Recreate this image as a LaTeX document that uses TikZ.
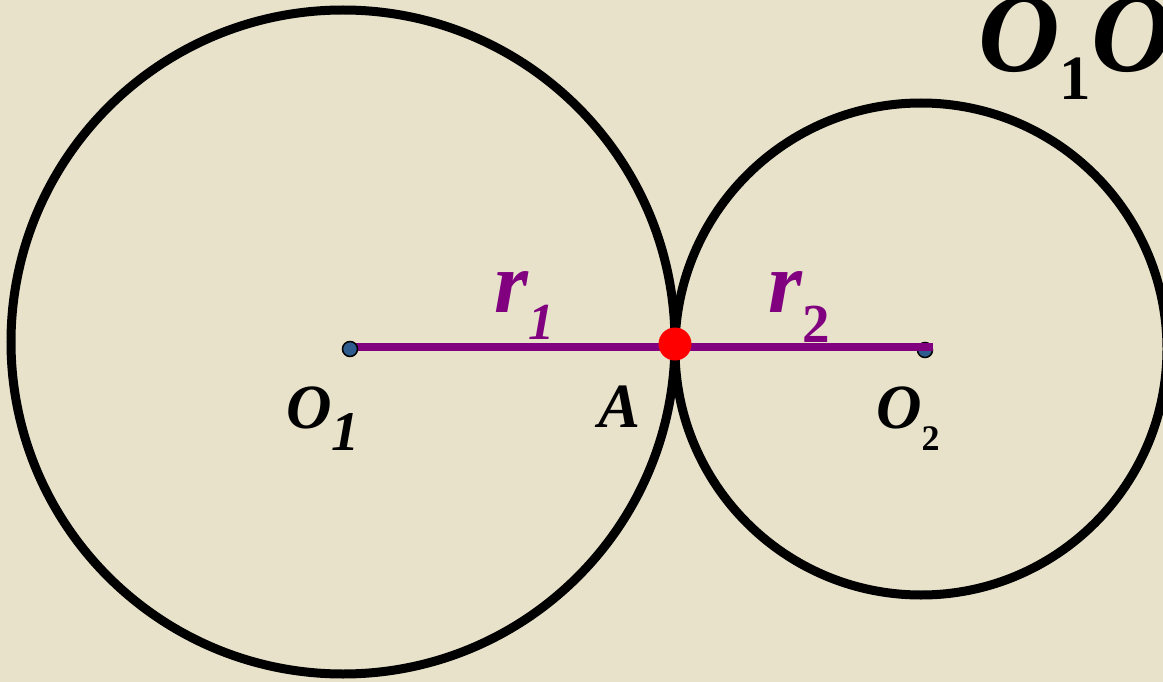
\documentclass[tikz,border=0pt]{standalone}
\usepackage{fontspec}
\setmainfont{Liberation Serif}
\usepackage{xcolor}
\usepackage{tikz}
\usetikzlibrary{positioning}
\definecolor{pgPaper}{HTML}{E8E2CB}
\definecolor{pgInk}{HTML}{000000}
\definecolor{pgPurple}{HTML}{800080}
\definecolor{pgRed}{HTML}{FF0000}
\definecolor{pgBlue}{HTML}{2E5C8E}
\tikzset{
  rim/.style   ={draw=pgInk, line width=9pt},
  radline/.style={draw=pgPurple, line width=8pt},
  ctr/.style   ={circle, draw=pgInk, fill=pgBlue, line width=1.5pt, minimum size=15pt, inner sep=0pt},
  tpt/.style   ={circle, fill=pgRed, minimum size=33pt, inner sep=0pt},
  lbl/.style   ={anchor=base west, inner sep=0pt, text=pgInk, font=\fontsize{63}{63}\selectfont\bfseries\itshape},
  rlbl/.style  ={anchor=base west, inner sep=0pt, text=pgPurple, font=\fontsize{87}{87}\selectfont\bfseries\itshape},
}

\begin{document}
\begin{tikzpicture}[x=1pt, y=-1pt]
\useasboundingbox (0,0) rectangle (1163,682);
\fill[pgPaper] (0,0) rectangle (1163,682);

% ---- the two circles ----
\coordinate (c1) at (343,342);
\coordinate (c2) at (921,349);
\draw[rim] (c1) circle[radius=332];
\draw[rim] (c2) circle[radius=246];

% ---- centres, radii, touching point ----
\node[ctr] (O2) at (925,350) {};
\node[ctr, draw=none, fill=none] (O1) at (350,347) {};
\draw[radline] (O1.center) -- (O2.east |- O1.center);
\node[ctr] (O1dot) at (350,349) {};
\node[tpt] (A) at (675,344) {};

% ---- labels ----
\node[rlbl] (r1) at (494,312) {r\raisebox{-28pt}{\fontsize{52}{52}\selectfont 1}};
\node[rlbl] (r2) at (768,312) {r\raisebox{-30pt}{\fontsize{55}{55}\selectfont\upshape 2}};
\node[lbl] (lO1) at (286,428) {O\raisebox{-22pt}{\fontsize{56}{56}\selectfont 1}};
\node[lbl] (lA)  at (598,427) {A};
\node[lbl] (lO2) at (876,428) {O\raisebox{-22pt}{\fontsize{36}{36}\selectfont\upshape 2}};

% ---- title (cut by the frame) ----
\node[lbl, font=\fontsize{113}{113}\selectfont\bfseries\itshape] (title) at (978,72)
  {O\raisebox{-28pt}{\fontsize{63}{63}\selectfont\upshape 1}O};
\end{tikzpicture}
\end{document}
